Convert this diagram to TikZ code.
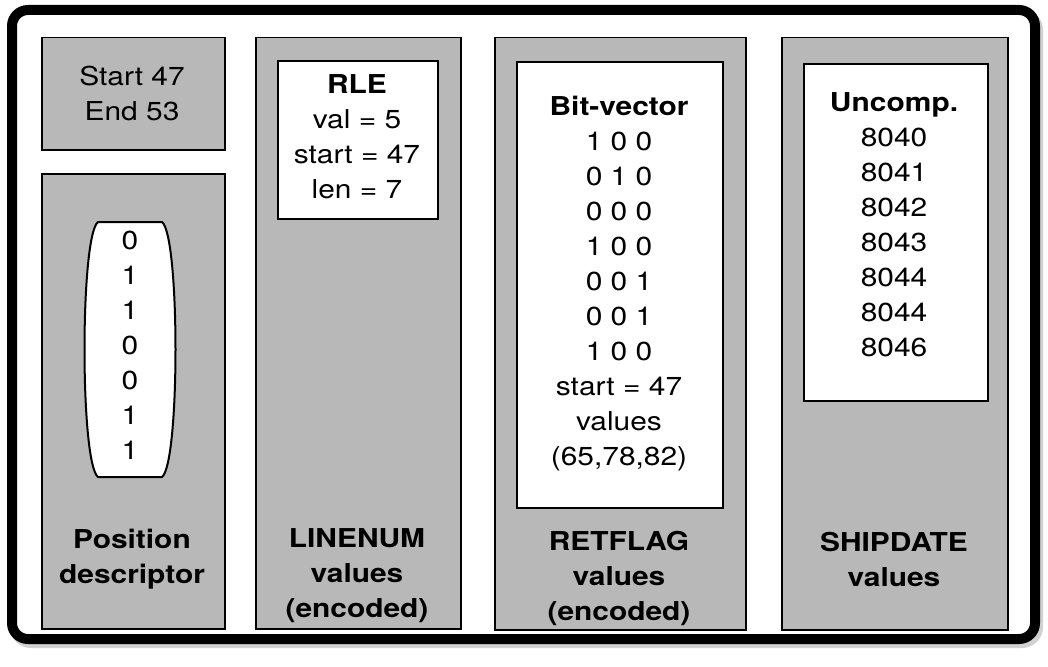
\documentclass[tikz,border=0pt]{standalone}
\usepackage{fontspec}
\setmainfont{TeX Gyre Heros}[FakeStretch=1.15]
\definecolor{panelgray}{HTML}{B8B8B8}
\begin{document}
\begin{tikzpicture}[x=1pt,y=-1pt,
  panel/.style={draw=black, line width=1.5pt, fill=panelgray, anchor=north west, inner sep=0pt},
  inbox/.style={draw=black, line width=2pt, fill=white, anchor=north west, inner sep=0pt},
  txt/.style={font=\fontsize{26}{35}\selectfont, align=center, anchor=north, inner sep=0pt},
  btxt/.style={txt, font=\fontsize{26}{35}\selectfont\bfseries}]
\useasboundingbox (0,0) rectangle (1048,666);
% outer frame with shadow
\draw[line width=10pt, rounded corners=16pt, black!18] (15,14) rectangle (1038,643);
\draw[line width=10pt, rounded corners=16pt, fill=white] (12,10) rectangle (1035,639);
% panels
\node[panel, minimum width=183pt, minimum height=112pt] (p1) at (41,37) {};
\node[panel, minimum width=183pt, minimum height=455pt] (p2) at (41,173) {};
\node[panel, minimum width=205pt, minimum height=591pt] (p3) at (255,37) {};
\node[panel, minimum width=251pt, minimum height=592pt] (p4) at (494,37) {};
\node[panel, minimum width=226pt, minimum height=592pt] (p5) at (781,37) {};
% inner boxes
\node[inbox, minimum width=160pt, minimum height=158pt] (rle) at (277,60) {};
\node[inbox, minimum width=206pt, minimum height=446pt] (bv) at (516,61) {};
\node[inbox, minimum width=184pt, minimum height=337pt] (uc) at (803,63) {};
% capsule
\draw[line width=2pt, fill=white, line join=round] (98,222) -- (162,222)
  .. controls (180,236) and (180,463) .. (162,477) -- (98,477)
  .. controls (80,463) and (80,236) .. (98,222) -- cycle;
% texts
\node[txt] (t1) at (132,66) {Start 47\\End 53};
\node[txt] (t2) at (130,231) {0\\1\\1\\0\\0\\1\\1};
\node[txt] (t3) at (357,74) {\textbf{RLE}\\val = 5\\start = 47\\len = 7};
\node[txt] (t4) at (619,96) {\textbf{Bit-vector}\\1 0 0\\0 1 0\\0 0 0\\1 0 0\\0 0 1\\0 0 1\\1 0 0\\start = 47\\values\\(65,78,82)};
\node[txt] (t5) at (894,92) {\textbf{Uncomp.}\\8040\\8041\\8042\\8043\\8044\\8044\\8046};
\node[btxt] (l1) at (132,529) {Position\\descriptor};
\node[btxt] (l2) at (357,528) {LINENUM\\values\\(encoded)};
\node[btxt] (l3) at (619,531) {RETFLAG\\values\\(encoded)};
\node[btxt] (l4) at (894,532) {SHIPDATE\\values};
\end{tikzpicture}
\end{document}
